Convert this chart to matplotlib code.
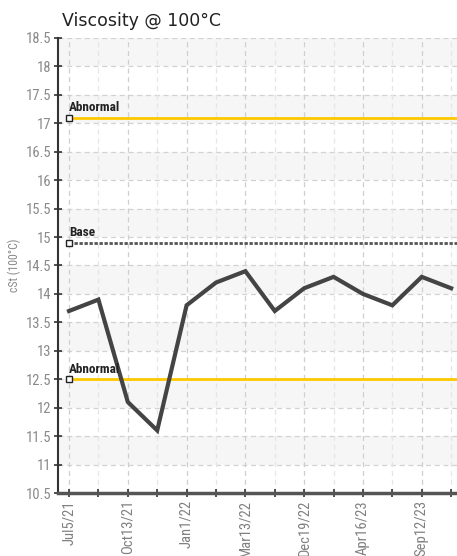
import numpy as np
import matplotlib.pyplot as plt

# data
x_labels = ["Jul5/21", "", "Oct13/21", "", "Jan1/22", "", "Mar13/22", "",
            "Dec19/22", "", "Apr16/23", "", "Sep12/23", ""]
viscosity = [13.7, 13.9, 12.1, 11.6, 13.8, 14.2, 14.4, 13.7, 14.1, 14.3,
             14.0, 13.8, 14.3, 14.1]
abnormal_high = 17.1
base = 14.9
abnormal_low = 12.5
y_ticks = np.arange(10.5, 18.51, 0.5)

NARROW = ["Roboto Condensed", "DejaVu Sans"]


def main():
    fig = plt.figure(figsize=(4.57, 5.56), dpi=100)
    ax = fig.add_axes([0.127, 0.1133, 0.873, 0.8184])
    n = len(viscosity)
    x = np.arange(n)

    # 背景条纹
    for lo in np.arange(11.0, 18.5, 1.0):
        ax.axhspan(lo, lo + 0.5, color="#f6f6f6", zorder=0, lw=0)

    # 网格
    for yv in y_ticks[1:]:
        ax.axhline(yv, color="#d2d2d2", lw=0.9, ls=(0, (4, 3)), zorder=1)
    for i in x:
        c = "#cfcfcf" if i % 2 == 0 else "#e6e6e6"
        ax.axvline(i, color=c, lw=0.9, ls=(0, (4, 3)), zorder=1)

    # 限值线
    ax.plot([0, n], [abnormal_high] * 2, color="#ffc700", lw=2, zorder=2)
    ax.plot([0, n], [abnormal_low] * 2, color="#ffc700", lw=2, zorder=2)
    ax.plot([0, n], [base] * 2, color="#555555", lw=2, ls=(0, (1.2, 0.6)), zorder=2)
    for yv, txt in [(abnormal_high, "Abnormal"), (base, "Base"), (abnormal_low, "Abnormal")]:
        ax.plot(0, yv, marker="s", ms=4, mfc="white", mec="#222222", mew=1, zorder=4)
        ax.text(0, yv + 0.06, txt, fontsize=9.5, color="#222222", family=NARROW,
                fontweight="bold", ha="left", va="bottom", zorder=5)

    # 数据线
    ax.plot(x, viscosity, color="#444444", lw=3, zorder=3, solid_joinstyle="miter")

    ax.set_xlim(-0.374, 13.2)
    ax.set_ylim(10.5, 18.5)
    ax.set_xticks(x)
    ax.set_xticklabels(x_labels, rotation=90, family=NARROW, fontsize=10.5, color="#808080")
    ax.set_yticks(y_ticks)
    ax.set_yticklabels(["%g" % v for v in y_ticks], family=NARROW, fontsize=10.5, color="#8a8a8a")
    ax.tick_params(axis="both", direction="inout", length=6, width=1.2, color="#333333", pad=2)

    for s in ["top", "right"]:
        ax.spines[s].set_visible(False)
    ax.spines["left"].set_color("#333333")
    ax.spines["left"].set_linewidth(1.5)
    ax.spines["bottom"].set_color("#555555")
    ax.spines["bottom"].set_linewidth(2.5)

    ax.set_ylabel("cSt (100°C)", family=NARROW, fontsize=8.5, color="#888888", labelpad=3)
    fig.text(0.136, 0.978, "Viscosity @ 100°C", fontsize=12.5, color="#222222",
             ha="left", va="top")

    fig.savefig("out.png", dpi=100)


main()
